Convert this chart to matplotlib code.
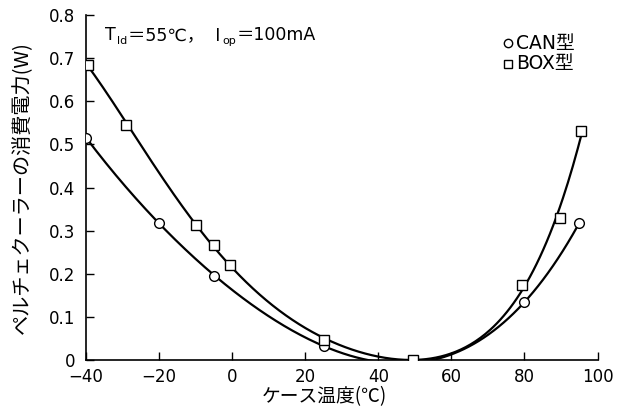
import numpy as np
import matplotlib
matplotlib.use("Agg")
import matplotlib.pyplot as plt

plt.rcParams['font.family'] = ['DejaVu Sans', 'Noto Sans CJK JP']

# measured points (case temperature in C, power in W)
can_temp = [-40, -20, -5, 25, 80, 95]
can_power = [0.515, 0.318, 0.195, 0.033, 0.134, 0.318]
box_temp = [-39.5, -29, -10, -5, -0.5, 25, 49.5, 79.3, 89.6, 95.5]
box_power = [0.684, 0.545, 0.313, 0.267, 0.22, 0.046, 0.0, 0.174, 0.33, 0.531]

xticks = [-40, -20, 0, 20, 40, 60, 80, 100]
xtick_labels = ['\u221240', '\u221220', '0', '20', '40', '60', '80', '100']
yticks = [0, 0.1, 0.2, 0.3, 0.4, 0.5, 0.6, 0.7, 0.8]
ytick_labels = ['0', '0.1', '0.2', '0.3', '0.4', '0.5', '0.6', '0.7', '0.8']

fig = plt.figure(figsize=(6.29, 4.20), dpi=100)
ax = fig.add_axes([0.137, 0.143, 0.813, 0.821])

# smooth fitted curves
for t, p, deg in [(can_temp, can_power, 4), (box_temp, box_power, 5)]:
    coef = np.polyfit(t, p, deg)
    xs = np.linspace(min(t), max(t), 300)
    ax.plot(xs, np.polyval(coef, xs), color='black', lw=1.6, zorder=2)

ax.plot(can_temp, can_power, 'o', ms=7, mfc='white', mec='black', mew=1.0, ls='none', zorder=3)
ax.plot(box_temp, box_power, 's', ms=7, mfc='white', mec='black', mew=1.0, ls='none', zorder=3)

ax.set_xlim(-40, 100)
ax.set_ylim(0, 0.8)
ax.set_xticks(xticks)
ax.set_xticklabels(xtick_labels)
ax.set_yticks(yticks)
ax.set_yticklabels(ytick_labels)
ax.tick_params(direction='in', length=6, labelsize=12, width=1)
ax.tick_params(axis='x', pad=6)
ax.tick_params(axis='y', pad=8)
ax.spines['top'].set_visible(False)
ax.spines['right'].set_visible(False)
ax.spines['left'].set_linewidth(1.2)
ax.spines['bottom'].set_linewidth(1.2)

ax.set_xlabel('ケース温度(℃)', fontsize=13.5, labelpad=2, family='Noto Sans CJK JP')
ax.xaxis.set_label_coords(0.465, -0.075)
ax.set_ylabel('ペルチェクーラーの消費電力(W)', fontsize=14.5, labelpad=11, family='Noto Sans CJK JP')

# condition label built from pieces so the subscripts sit below the baseline
y0 = 0.742
pieces = [('T', 12.5, 0), ('ld', 8, -2.5), ('＝55℃，  I', 12.5, 0), ('op', 8, -2.5), ('＝100mA', 12.5, 0)]
prev = None
for s, fs, dy in pieces:
    if prev is None:
        prev = ax.text(-34.8, y0, s, fontsize=fs, va='baseline', ha='left')
    else:
        prev = ax.annotate(s, xy=(1, y0), xycoords=(prev, 'data'),
                           xytext=(0.8, dy), textcoords='offset points',
                           fontsize=fs, va='baseline', ha='left')

# legend drawn as marker + text
ax.plot([75.4], [0.735], 'o', ms=6, mfc='white', mec='black', mew=1.0, clip_on=False)
ax.text(77.8, 0.735, 'CAN型', fontsize=13.5, va='center')
ax.plot([75.4], [0.687], 's', ms=6, mfc='white', mec='black', mew=1.0, clip_on=False)
ax.text(77.8, 0.687, 'BOX型', fontsize=13.5, va='center')

fig.savefig('out.png', dpi=100)
